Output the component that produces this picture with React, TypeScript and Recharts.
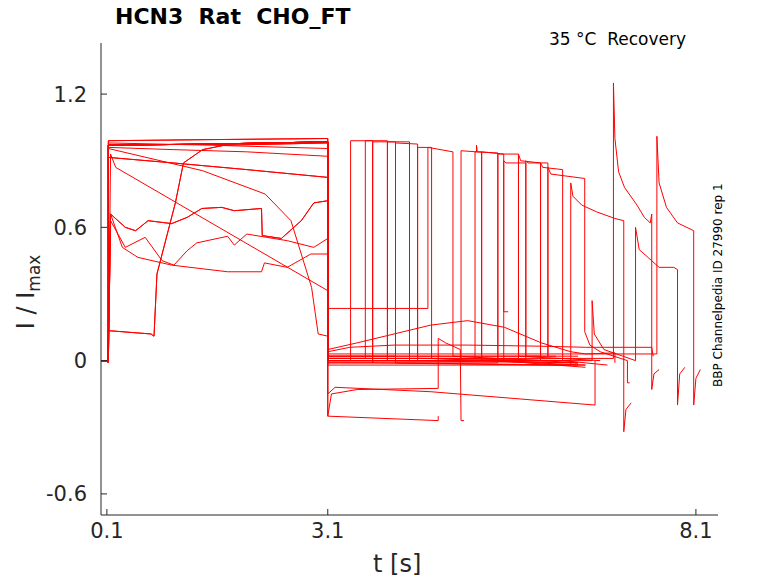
import { LineChart, Line, XAxis, YAxis } from 'recharts';

type Pt = [number, number];

const xTicks = [0.1, 3.1, 8.1];
const yTicks = [-0.6, 0, 0.6, 1.2];

// first pulse (0.1 - 3.1 s)
const pre1: Pt[] = [[0.02, 0], [0.11, 0], [0.11, 0.1], [0.115, -0.01], [0.12, 0], [0.12, 0.99], [1.5, 0.995], [3.1, 1.0]];
const pre2: Pt[] = [[0.02, 0], [0.12, 0], [0.12, 0.98], [1.5, 0.97], [3.1, 0.955]];
const pre3: Pt[] = [[0.02, 0], [0.12, 0], [0.12, 0.96], [1.0, 0.95], [2.0, 0.94], [3.1, 0.92]];
const pre4: Pt[] = [[0.02, 0], [0.12, 0], [0.12, 0.915], [1.0, 0.89], [2.0, 0.86], [3.1, 0.825]];
const pre5: Pt[] = [[0.02, 0], [0.12, 0], [0.12, 0.955], [1.4, 0.855], [2.25, 0.75], [2.6, 0.63], [2.88, 0.33], [2.97, 0.12], [3.1, 0.11]];
const pre6: Pt[] = [[0.02, 0], [0.12, 0], [0.15, 0.93], [0.22, 0.87], [3.1, 0.315]];
const pre7: Pt[] = [[0.02, 0], [0.12, 0], [0.12, 0.135], [0.7, 0.12], [0.74, 0.11], [0.78, 0.39], [1.03, 0.71], [1.14, 0.89], [1.4, 0.95], [1.7, 0.97], [3.1, 0.98]];
const pre8: Pt[] = [[0.02, 0], [0.12, 0], [0.15, 0.66], [0.31, 0.51], [0.52, 0.465], [0.98, 0.43], [1.74, 0.4], [2.2, 0.4], [2.24, 0.44], [2.55, 0.42], [2.87, 0.48], [3.1, 0.48]];
const pre9: Pt[] = [[0.02, 0], [0.12, 0], [0.15, 0.63], [0.35, 0.51], [0.62, 0.555], [0.85, 0.45], [1.01, 0.43], [1.19, 0.495], [1.32, 0.53], [1.74, 0.56], [1.83, 0.52], [2.0, 0.57], [2.27, 0.555], [2.55, 0.54], [2.91, 0.51], [3.1, 0.55]];
const pre10: Pt[] = [[0.02, 0], [0.12, 0], [0.15, 0.66], [0.35, 0.6], [0.49, 0.585], [0.66, 0.63], [0.98, 0.617], [1.19, 0.645], [1.39, 0.685], [1.66, 0.69], [1.83, 0.675], [2.2, 0.685], [2.21, 0.563], [2.47, 0.55], [2.74, 0.63], [2.91, 0.71], [3.1, 0.72]];
const preTop: Pt[] = [[0.02, 0], [0.12, 0], [0.12, 0.97], [1.5, 0.975], [3.1, 0.985]];

// recovery part (after 3.1 s)
const rec1: Pt[] = [[3.1, 0.0], [3.41, 0.0], [3.41, 0.99], [3.71, 0.99], [3.71, -0.01], [6.0, -0.02], [6.6, -0.02]];
const rec2: Pt[] = [[3.1, 0.01], [3.61, 0.01], [3.61, 0.99], [3.91, 0.99], [3.91, 0.0], [6.5, -0.01]];
const rec3: Pt[] = [[3.1, -0.01], [3.71, -0.01], [3.71, 0.985], [4.02, 0.985], [4.02, -0.01], [6.5, -0.02]];
const rec4: Pt[] = [[3.1, 0.0], [3.91, 0.0], [3.91, 0.985], [4.21, 0.985], [4.21, 0.0], [6.2, 0.0]];
const rec5: Pt[] = [[3.1, 0.02], [4.02, 0.02], [4.02, 0.98], [4.32, 0.975], [4.32, 0.01], [6.4, 0.0]];
const rec6: Pt[] = [[3.1, 0.0], [4.32, 0.0], [4.32, 0.96], [4.51, 0.96], [4.51, 0.01], [6.6, -0.02]];
const rec7: Pt[] = [[3.1, 0.235], [4.46, 0.235], [4.46, 0.96], [4.8, 0.94], [4.8, 0.02], [6.0, 0.0]];
const rec8: Pt[] = [[3.1, -0.25], [3.15, -0.15], [3.5, -0.13], [4.6, -0.125], [4.6, 0.1], [4.7, 0.08], [4.9, 0.05], [4.91, -0.27], [4.95, -0.27]];
const rec9: Pt[] = [[3.1, 0.05], [3.5, 0.08], [4.0, 0.12], [4.5, 0.16], [5.0, 0.18], [5.5, 0.15], [6.0, 0.08], [6.4, 0.04], [6.6, 0.03], [7.0, 0.035], [7.0, -0.01]];
const rec10: Pt[] = [[3.1, 0.04], [3.4, 0.06], [4.0, 0.07], [5.0, 0.07], [6.0, 0.065], [6.6, 0.06], [7.5, 0.06], [7.52, 0.02]];
const rec11: Pt[] = [[3.1, -0.25], [4.6, -0.27], [4.6, -0.25]];
const rec12: Pt[] = [[3.1, -0.15], [3.2, -0.12], [4.5, -0.14], [6.73, -0.2], [6.73, 0.0]];
const rec13: Pt[] = [[3.1, 0.0], [4.91, 0.0], [4.91, 0.945], [5.12, 0.94], [5.12, 0.97], [5.13, 0.94], [5.19, 0.94], [5.19, 0.0], [6.5, -0.01]];
const rec14: Pt[] = [[3.1, 0.01], [5.1, 0.01], [5.1, 0.94], [5.41, 0.935], [5.41, 0.0], [6.6, -0.03]];
const rec15: Pt[] = [[3.1, 0.0], [5.19, 0.0], [5.19, 0.94], [5.49, 0.93], [5.49, 0.22], [5.55, 0.22]];
const rec16: Pt[] = [[3.1, -0.01], [5.41, -0.01], [5.41, 0.93], [5.69, 0.93], [5.69, 0.02], [6.8, 0.0]];
const rec17: Pt[] = [[3.1, 0.0], [5.49, 0.0], [5.49, 0.9], [5.52, 0.89], [5.79, 0.89], [5.79, 0.02], [6.2, 0.02]];
const rec18: Pt[] = [[3.1, 0.01], [5.69, 0.01], [5.69, 0.93], [5.72, 0.9], [5.99, 0.89], [5.99, 0.0], [6.5, -0.01]];
const rec19: Pt[] = [[3.1, 0.0], [5.79, 0.0], [5.79, 0.9], [5.82, 0.89], [6.09, 0.89], [6.09, 0.02], [6.5, 0.02]];
const rec20: Pt[] = [[3.1, 0.02], [5.99, 0.02], [5.99, 0.89], [6.02, 0.87], [6.29, 0.86], [6.29, 0.0], [6.9, -0.02]];
const rec21: Pt[] = [[3.1, 0.02], [6.09, 0.02], [6.09, 0.87], [6.13, 0.84], [6.59, 0.82], [6.59, 0.13], [6.66, 0.07], [6.8, 0.04], [7.17, 0.0], [7.17, -0.1], [7.2, -0.1]];
const rec22: Pt[] = [[3.1, -0.02], [6.4, -0.02], [6.4, 0.8], [6.43, 0.74], [6.55, 0.7], [6.75, 0.67], [7.0, 0.64], [7.12, 0.63], [7.12, -0.32], [7.15, -0.22], [7.22, -0.19]];
const rec23: Pt[] = [[3.1, 0.01], [6.98, 0.01], [6.98, 1.25], [7.0, 1.0], [7.05, 0.85], [7.13, 0.78], [7.3, 0.7], [7.4, 0.645], [7.48, 0.62], [7.5, 0.66], [7.5, -0.13], [7.53, -0.06], [7.6, -0.04]];
const rec24: Pt[] = [[3.1, 0.0], [6.69, 0.0], [6.69, 0.27], [6.72, 0.12], [6.85, 0.05], [7.28, 0.0], [7.28, 0.6], [7.33, 0.5], [7.6, 0.42], [7.8, 0.42], [7.85, 0.41], [7.85, -0.2], [7.88, -0.06], [7.95, -0.03]];
const rec25: Pt[] = [[3.1, 0.03], [7.57, 0.03], [7.57, 1.01], [7.6, 0.8], [7.7, 0.69], [7.85, 0.62], [8.07, 0.585], [8.07, -0.2], [8.1, -0.08], [8.16, -0.04]];

const pres = [pre1, pre2, pre3, pre4, pre5, pre6, pre7, pre8, pre9, pre10];
const recs = [rec1, rec2, rec3, rec4, rec5, rec6, rec7, rec8, rec9, rec10, rec11, rec12, rec13, rec14, rec15, rec16, rec17, rec18, rec19, rec20, rec21, rec22, rec23, rec24, rec25];

const traces = recs.map((r, i) => {
  const pre = pres[(i * 3) % pres.length] ?? preTop;
  return [...(i < 14 ? pre : preTop), ...r].map(([t, v]) => ({ t, v }));
});

const txt = '#262626';
const font = 'DejaVu Sans, sans-serif';

export default function App() {
  return (
    <div style={{ position: 'relative', width: 770, height: 575, fontFamily: font }}>
      <LineChart width={770} height={575} margin={{ top: 35, right: 60, bottom: 28, left: 33 }}>
        <XAxis
          type="number"
          dataKey="t"
          domain={[0.02, 8.4]}
          ticks={xTicks}
          allowDuplicatedCategory={false}
          height={40}
          stroke={txt}
          tickSize={-6}
          tickMargin={14}
          tick={{ fontSize: 21, fill: txt, fontFamily: font }}
        />
        <YAxis
          type="number"
          dataKey="v"
          domain={[-0.695, 1.43]}
          ticks={yTicks}
          width={60}
          stroke={txt}
          tickSize={-6}
          tickMargin={20}
          tick={{ fontSize: 21, fill: txt, fontFamily: font }}
          tickFormatter={(v: number) => String(v)}
        />
        {traces.map((d, i) => (
          <Line key={i} data={d} dataKey="v" stroke="#ff0000" strokeWidth={1} dot={false} type="linear" isAnimationActive={false} />
        ))}
      </LineChart>
      <div style={{ position: 'absolute', left: 107, top: -4, fontSize: 22, fontWeight: 'bold', color: '#000' }}>HCN3&nbsp;&nbsp;Rat&nbsp;&nbsp;CHO_FT</div>
      <div style={{ position: 'absolute', left: 541, top: 21, fontSize: 17, color: '#000', whiteSpace: 'pre' }}>35 °C  Recovery</div>
      <div style={{ position: 'absolute', left: 365, top: 542, fontSize: 24, color: txt }}>t [s]</div>
      <div style={{ position: 'absolute', left: -30, top: 268, width: 100, fontSize: 24, color: txt, transform: 'rotate(-90deg)', textAlign: 'center', whiteSpace: 'nowrap' }}>
        I / I<sub style={{ fontSize: 17 }}>max</sub>
      </div>
      <div style={{ position: 'absolute', left: 610, top: 272, width: 200, fontSize: 12, color: '#000', transform: 'rotate(-90deg)', textAlign: 'center', whiteSpace: 'nowrap' }}>
        BBP Channelpedia ID 27990 rep 1
      </div>
    </div>
  );
}
